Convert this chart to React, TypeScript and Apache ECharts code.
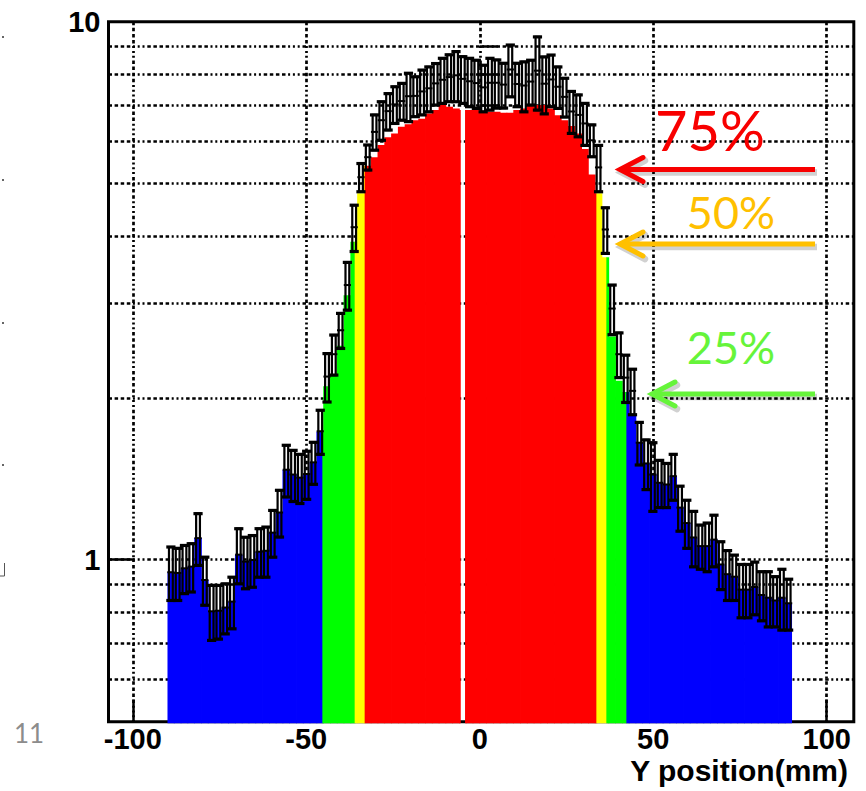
import React, { useEffect, useRef } from "react";
import * as echarts from "echarts";

// Axis ranges (mm on x, counts on a log y scale)
const X_RANGE = [-107, 107.8];
const Y_RANGE = [0.5, 10];
// Histogram span; bins are equal width over this range
const HIST_RANGE = [-90, 90];

// Bin contents (error-bar centres) from left to right
const counts = [
  0.948, 0.945, 0.964, 0.971, 1.097, 0.917, 0.802, 0.804, 0.815, 0.836,
  1.022, 0.992, 0.999, 1.035, 1.039, 1.123, 1.224, 1.47, 1.44, 1.421,
  1.443, 1.517, 1.733, 2.19, 2.41, 2.67, 3.24, 4.15, 5.14, 5.6,
  6.24, 6.56, 6.82, 7.02, 7.12, 7.27, 7.28, 7.42, 7.52, 7.68,
  7.8, 7.89, 7.95, 7.83, 7.75, 7.69, 7.55, 7.7, 7.7, 7.64,
  8.15, 7.66, 7.61, 7.74, 8.11, 7.67, 7.81, 7.57, 7.25, 6.81,
  6.71, 6.47, 6.02, 5.36, 4.11, 2.93, 2.41, 2.18, 2.06, 1.65,
  1.51, 1.44, 1.39, 1.38, 1.43, 1.25, 1.17, 1.1, 1.06, 1.06,
  1.09, 0.98, 0.94, 0.93, 0.88, 0.88, 0.89, 0.86, 0.85, 0.84,
  0.85, 0.83,
];

// Statistical uncertainty of each bin
const errors = [
  0.108, 0.105, 0.099, 0.1, 0.121, 0.094, 0.094, 0.092, 0.087, 0.092,
  0.12, 0.109, 0.11, 0.107, 0.111, 0.112, 0.122, 0.162, 0.157, 0.149,
  0.148, 0.136, 0.163, 0.226, 0.206, 0.2, 0.33, 0.41, 0.31, 0.3,
  0.47, 0.54, 0.53, 0.55, 0.56, 0.75, 0.62, 0.71, 0.72, 0.68,
  0.75, 0.79, 0.85, 0.78, 0.8, 0.79, 0.75, 0.85, 0.79, 0.73,
  0.9, 0.71, 0.81, 0.74, 1.26, 0.93, 0.86, 0.67, 0.6, 0.61,
  0.6, 0.58, 0.41, 0.53, 0.4, 0.31, 0.23, 0.22, 0.2, 0.15,
  0.16, 0.21, 0.14, 0.13, 0.14, 0.12, 0.12, 0.13, 0.1, 0.11,
  0.12, 0.1, 0.1, 0.09, 0.1, 0.1, 0.1, 0.09, 0.1, 0.09,
  0.11, 0.09,
];

// Height of the coloured profile in each bin
const fillLevels = [
  0.948, 0.945, 0.964, 0.971, 1.097, 0.917, 0.802, 0.804, 0.815, 0.836,
  1.022, 0.992, 0.999, 1.035, 1.039, 1.123, 1.224, 1.47, 1.44, 1.421,
  1.443, 1.517, 1.73, 2.1, 2.2, 2.5, 3.1, 3.9, 4.8, 5.4,
  5.6, 5.9, 6.1, 6.2, 6.38, 6.45, 6.56, 6.6, 6.75, 6.85,
  7.0, 6.95, 6.9, 6.85, 6.85, 6.85, 6.8, 6.8, 6.8, 6.77,
  6.77, 6.85, 6.9, 7.0, 7.0, 7.0, 6.9, 6.7, 6.56, 6.4,
  6.2, 5.8, 5.2, 4.8, 3.65, 2.6, 2.15, 2.05, 1.85, 1.65,
  1.51, 1.44, 1.39, 1.38, 1.43, 1.25, 1.17, 1.1, 1.06, 1.06,
  1.09, 0.98, 0.94, 0.93, 0.88, 0.88, 0.89, 0.86, 0.85, 0.84,
  0.85, 0.83,
];

// Position (mm) where the profile changes colour, and the colours in between
const bandEdges = [-45.25, -35.94, -33.06, 33.72, 36.6, 42.37];
const bandColors = ["#0000FF", "#00FF00", "#FFFF00", "#FF0000", "#FFFF00", "#00FF00", "#0000FF"];
// Dead strip with no coverage
const deadStrip = [-5.48, -4.24];

const xTickValues = [-100, -50, 0, 50, 100];
const yTickValues = [0.6, 0.7, 0.8, 0.9, 1, 2, 3, 4, 5, 6, 7, 8, 9];
const yMajorTickValues = [1];
const yLabelValues = [1, 10];

const levelLabels = ["75%", "50%", "25%"];
const levelColors = ["#F80000", "#FFC000", "#66F43A"];

const GRID_DASH = [3.5, 2.6, 3.5, 2.6, 3.5, 2.6, 3.5, 2.6, 2, 2.8, 2, 2.8, 2, 2.8];

const nBins = counts.length;
const binWidth = (HIST_RANGE[1] - HIST_RANGE[0]) / nBins;
const binLo = (k: number) => HIST_RANGE[0] + k * binWidth;

const fillData = fillLevels.map((v, k) => [binLo(k) + binWidth / 2, v, binLo(k), binLo(k) + binWidth]);
const errData = counts.map((v, k) => [binLo(k) + binWidth / 2, v, errors[k]]);

function colorAt(x: number) {
  let i = 0;
  while (i < bandEdges.length && x >= bandEdges[i]) i++;
  return bandColors[i];
}

const near = (a: number, b: number) => Math.abs(a - b) < 1e-6;

function renderFill(_params: any, api: any) {
  const xc = api.value(0);
  const v = api.value(1);
  const lo = api.value(2);
  const hi = api.value(3);
  const yTop = api.coord([xc, v])[1];
  const yBase = api.coord([xc, Y_RANGE[0]])[1] + 1.6;
  const cuts = [lo, hi]
    .concat(bandEdges.filter((b) => b > lo && b < hi))
    .concat(deadStrip.filter((b) => b > lo && b < hi))
    .sort((a, b) => a - b);
  const children: any[] = [];
  for (let i = 0; i < cuts.length - 1; i++) {
    const a = cuts[i];
    const b = cuts[i + 1];
    const mid = (a + b) / 2;
    if (mid > deadStrip[0] && mid < deadStrip[1]) continue;
    const x0 = api.coord([a, v])[0];
    const x1 = api.coord([b, v])[0];
    const padL = near(a, HIST_RANGE[0]) || near(a, deadStrip[1]) ? 0 : 0.4;
    const padR = near(b, HIST_RANGE[1]) || near(b, deadStrip[0]) ? 0 : 0.4;
    children.push({
      type: "rect",
      shape: { x: x0 - padL, y: yTop, width: x1 - x0 + padL + padR, height: yBase - yTop },
      style: { fill: colorAt(mid) },
    });
  }
  return { type: "group", children };
}

function renderErrorBar(_params: any, api: any) {
  const xc = api.value(0);
  const v = api.value(1);
  const e = api.value(2);
  const [px, py] = api.coord([xc, v]);
  const yt = api.coord([xc, v + e])[1];
  const yb = api.coord([xc, v - e])[1];
  const black = "#000";
  return {
    type: "group",
    children: [
      {
        type: "rect",
        shape: { x: px - 1.9, y: yt, width: 3.8, height: yb - yt },
        style: { fill: "none", stroke: black, lineWidth: 2.2 },
      },
      { type: "line", shape: { x1: px - 4.6, y1: yt, x2: px + 4.6, y2: yt }, style: { stroke: black, lineWidth: 3.2 } },
      { type: "line", shape: { x1: px - 4.6, y1: yb, x2: px + 4.6, y2: yb }, style: { stroke: black, lineWidth: 3.2 } },
      { type: "line", shape: { x1: px - 3.6, y1: py, x2: px + 3.6, y2: py }, style: { stroke: black, lineWidth: 2 } },
    ],
  };
}

// Arrow pointing left at a level; soft offset copy drawn first as its shadow
function arrow(tipX: number, y: number, tailX: number, color: string) {
  const head = (dx: number, dy: number) => [
    [tipX + 23 + dx, y - 12 + dy],
    [tipX + dx, y + dy],
    [tipX + 23 + dx, y + 12 + dy],
  ];
  const shade = "rgba(0,0,0,0.18)";
  return [
    {
      type: "line",
      z: 99,
      shape: { x1: tipX + 6 + 2, y1: y + 3, x2: tailX + 2, y2: y + 3 },
      style: { stroke: shade, lineWidth: 6.5 },
    },
    {
      type: "polyline",
      z: 99,
      shape: { points: head(2, 3) },
      style: { stroke: shade, lineWidth: 6.5, fill: "none", lineCap: "round" },
    },
    {
      type: "line",
      z: 100,
      shape: { x1: tipX + 4, y1: y, x2: tailX, y2: y },
      style: { stroke: color, lineWidth: 5 },
    },
    {
      type: "polyline",
      z: 100,
      shape: { points: head(0, 0) },
      style: { stroke: color, lineWidth: 5, fill: "none", lineCap: "round", lineJoin: "miter" },
    },
  ];
}

const labelFont = { fontSize: 29, fontWeight: "bold" as const, fontFamily: "Liberation Sans", color: "#000" };

export default function App() {
  const ref = useRef<HTMLDivElement>(null);

  useEffect(() => {
    if (!ref.current) return;
    const chart = echarts.init(ref.current, undefined, { renderer: "svg" });

    const dots = [36, 179, 322, 464].map((y) => ({
      type: "rect",
      z: 100,
      shape: { x: 2, y, width: 2, height: 2 },
      style: { fill: "#666" },
    }));

    chart.setOption({
      animation: false,
      backgroundColor: "#fff",
      grid: {
        left: 108.5,
        right: 12.2,
        top: 21.7,
        bottom: 69.3,
        show: true,
        borderColor: "#000",
        borderWidth: 3,
        backgroundColor: "transparent",
      },
      xAxis: {
        type: "value",
        min: X_RANGE[0],
        max: X_RANGE[1],
        axisLine: { show: false },
        axisTick: {
          show: true,
          inside: true,
          length: 22,
          customValues: xTickValues,
          lineStyle: { color: "#000", width: 2.5 },
        },
        axisLabel: { customValues: xTickValues, margin: 3, ...labelFont },
        splitLine: { show: true, lineStyle: { color: "#000", width: 2.7, type: GRID_DASH } },
      },
      yAxis: [
        {
          type: "log",
          logBase: 10,
          min: Y_RANGE[0],
          max: Y_RANGE[1],
          position: "left",
          axisLine: { show: false },
          axisTick: {
            show: true,
            inside: true,
            length: 18,
            customValues: yTickValues,
            lineStyle: { color: "#000", width: 2.5 },
          },
          axisLabel: { customValues: yLabelValues, margin: 8, ...labelFont },
          splitLine: { show: true, lineStyle: { color: "#000", width: 2.7, type: GRID_DASH } },
        },
        {
          type: "log",
          logBase: 10,
          min: Y_RANGE[0],
          max: Y_RANGE[1],
          position: "left",
          offset: 0,
          axisLine: { show: false },
          axisTick: {
            show: true,
            inside: true,
            length: 26,
            customValues: yMajorTickValues,
            lineStyle: { color: "#000", width: 2.5 },
          },
          axisLabel: { show: false },
          splitLine: { show: false },
        },
      ],
      series: [
        {
          type: "custom",
          name: "profile",
          z: 2,
          clip: false,
          dimensions: ["x", "y", "lo", "hi"],
          encode: { x: 0, y: 1 },
          renderItem: renderFill,
          data: fillData,
        },
        {
          type: "custom",
          name: "counts",
          z: 3,
          clip: false,
          dimensions: ["x", "y", "err"],
          encode: { x: 0, y: 1 },
          renderItem: renderErrorBar,
          data: errData,
        },
      ],
      graphic: [
        {
          type: "text",
          z: 100,
          x: 848,
          y: 770,
          style: {
            text: "Y position(mm)",
            fill: "#000",
            fontSize: 30,
            fontWeight: "bold",
            fontFamily: "Liberation Sans",
            align: "right",
            verticalAlign: "middle",
          },
        },
        {
          type: "text",
          z: 100,
          x: 710,
          y: 129,
          style: {
            text: levelLabels[0],
            fill: levelColors[0],
            fontSize: 56,
            fontFamily: "Lato",
            align: "center",
            verticalAlign: "middle",
          },
        },
        {
          type: "text",
          z: 100,
          x: 731,
          y: 212,
          style: {
            text: levelLabels[1],
            fill: levelColors[1],
            fontSize: 45,
            fontFamily: "Lato",
            align: "center",
            verticalAlign: "middle",
          },
        },
        {
          type: "text",
          z: 100,
          x: 731,
          y: 347,
          style: {
            text: levelLabels[2],
            fill: levelColors[2],
            fontSize: 45,
            fontFamily: "Lato",
            align: "center",
            verticalAlign: "middle",
          },
        },
        ...arrow(620, 169.5, 815, levelColors[0]),
        ...arrow(620, 244, 815, levelColors[1]),
        ...arrow(652, 394, 815, levelColors[2]),
        {
          type: "text",
          z: 100,
          x: 29,
          y: 733,
          style: {
            text: "11",
            fill: "#8C8C8C",
            fontSize: 26,
            fontFamily: "Lato",
            align: "center",
            verticalAlign: "middle",
          },
        },
        ...dots,
        {
          type: "polyline",
          z: 100,
          shape: { points: [[4.5, 563], [4.5, 576], [0, 576]] },
          style: { stroke: "#555", lineWidth: 1, fill: "none" },
        },
      ],
    });

    return () => chart.dispose();
  }, []);

  return (
    <div
      ref={ref}
      style={{ position: "fixed", left: 0, top: 0, width: 866, height: 791, background: "#fff" }}
    />
  );
}
